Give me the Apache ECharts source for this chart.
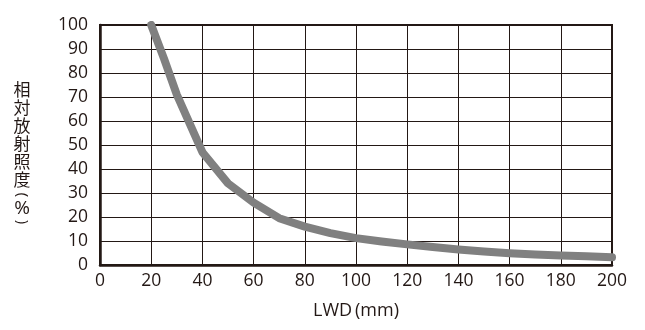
<!DOCTYPE html>
<html><head><meta charset="utf-8">
<script src="https://cdn.jsdelivr.net/npm/echarts@6/dist/echarts.min.js"></script>
<style>html,body{margin:0;padding:0;background:#fff}#c{width:645px;height:330px}</style>
</head><body><div id="c"></div>
<script>
const lwd = [20, 25, 30, 35, 40, 50, 60, 70, 80, 90, 100, 110, 120, 130, 140, 150, 160, 170, 180, 190, 200];
const irradiance = [100, 86, 71, 59, 47, 34, 26, 19.5, 16, 13.3, 11.2, 9.8, 8.6, 7.5, 6.5, 5.6, 4.9, 4.4, 4, 3.6, 3.2];
const xName = 'LWD\u2009(mm)';
const yNameChars = ['相', '対', '放', '射', '照', '度'];
const yNameUnit = ['(', '%', ')'];

const ink = '#231815';
const chart = echarts.init(document.getElementById('c'));
chart.setOption({
  animation: false,
  grid: { left: 100, right: 33, top: 25, bottom: 65, show: true, borderColor: ink, borderWidth: 2 },
  xAxis: {
    type: 'value', min: 0, max: 200, interval: 20,
    name: xName, nameLocation: 'middle', nameGap: 37,
    nameTextStyle: { color: ink, fontSize: 18, fontFamily: 'Open Sans' },
    axisLine: { lineStyle: { color: ink, width: 2.5 } },
    axisTick: { show: false },
    axisLabel: { color: ink, fontSize: 17.5, fontFamily: 'Open Sans', margin: 7 },
    splitLine: { show: true, lineStyle: { color: ink, width: 1 } }
  },
  yAxis: {
    type: 'value', min: 0, max: 100, interval: 10,
    axisLine: { show: true, lineStyle: { color: ink, width: 2.5 } },
    axisTick: { show: false },
    axisLabel: { color: ink, fontSize: 17.5, fontFamily: 'Open Sans', margin: 12 },
    splitLine: { show: true, lineStyle: { color: ink, width: 1 } }
  },
  graphic: [
    {
      type: 'text', x: 22, y: 81,
      style: { text: yNameChars.join('\n'), fill: ink, align: 'center', verticalAlign: 'top',
               fontSize: 17, lineHeight: 18, fontFamily: 'Noto Sans CJK JP' }
    },
    {
      type: 'text', x: 22, y: 195, rotation: -Math.PI / 2,
      style: { text: yNameUnit[0], fill: ink, align: 'center', verticalAlign: 'middle',
               fontSize: 15, fontFamily: 'Open Sans' }
    },
    {
      type: 'text', x: 22, y: 209,
      style: { text: yNameUnit[1], fill: ink, align: 'center', verticalAlign: 'middle',
               fontSize: 19, fontFamily: 'Open Sans' }
    },
    {
      type: 'text', x: 22, y: 222, rotation: -Math.PI / 2,
      style: { text: yNameUnit[2], fill: ink, align: 'center', verticalAlign: 'middle',
               fontSize: 15, fontFamily: 'Open Sans' }
    }
  ],
  series: [{
    type: 'line', data: lwd.map((x, i) => [x, irradiance[i]]),
    showSymbol: false, smooth: false,
    lineStyle: { color: '#808080', width: 8, cap: 'round', join: 'round' }
  }]
});
</script></body></html>
